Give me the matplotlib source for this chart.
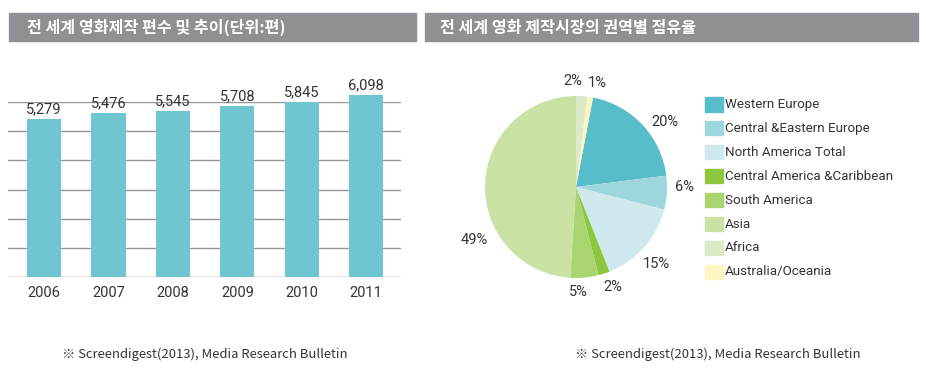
import matplotlib
matplotlib.use("Agg")
import matplotlib.pyplot as plt
from matplotlib.patches import Rectangle
from matplotlib import font_manager as fm
import numpy as np

# ---------------- data ----------------
years = ["2006", "2007", "2008", "2009", "2010", "2011"]
films = [5279, 5476, 5545, 5708, 5845, 6098]

regions = ["Western Europe", "Central &Eastern Europe", "North America Total",
           "Central America &Caribbean", "South America", "Asia", "Africa",
           "Australia/Oceania"]
shares = [20, 6, 15, 2, 5, 49, 2, 1]
share_labels = ["20%", "6%", "15%", "2%", "5%", "49%", "2%", "1%"]

title_left = "전 세계 영화제작 편수 및 추이(단위:편)"
title_right = "전 세계 영화 제작시장의 권역별 점유율"
source = "※ Screendigest(2013), Media Research Bulletin"

# ---------------- style ----------------
names = {f.name for f in fm.fontManager.ttflist}
narrow = "Liberation Sans Narrow" if "Liberation Sans Narrow" in names else "Roboto"
kr = "Noto Sans CJK KR"
plt.rcParams["font.family"] = [narrow, "DejaVu Sans"]

bar_color = "#70c6d0"
pie_colors = ["#57bdca", "#9ed6de", "#cfe9ee", "#8dc63f", "#a9d46f",
              "#cae2a4", "#dbeac8", "#fff5c0"]
title_gray = "#8f9094"
text_col = "#333333"

W, H = 926, 378
fig = plt.figure(figsize=(W / 100, H / 100), dpi=100)


def fr(x0, y0, x1, y1):
    """pixel box (top-left origin) -> figure fraction rect"""
    return [x0 / W, 1 - y1 / H, (x1 - x0) / W, (y1 - y0) / H]


# title bars
for (x0, x1, tx, t) in [(9, 416, 27, title_left), (425, 918, 440, title_right)]:
    fig.patches.append(Rectangle((x0 / W, 1 - 41 / H), (x1 - x0) / W, 28 / H,
                                 transform=fig.transFigure, color=title_gray, zorder=0))
    fig.text(tx / W, 1 - 27.5 / H, t, color="white", fontsize=11.6, fontweight="bold",
             family=[kr, "DejaVu Sans"], va="center", ha="left")

# ---------------- bar chart ----------------
ax = fig.add_axes(fr(8, 102.3, 401, 276.7))
x = np.arange(len(years))
bars = ax.bar(x, films, width=0.53, color=bar_color, zorder=2, clip_on=False)
ax.set_xlim(-0.56, 5.54)
ax.set_ylim(0, films[4])
ax.set_yticks(np.linspace(0, films[4], 7))
ax.yaxis.grid(True, color="#959595", linewidth=1.0, zorder=1)
ax.set_axisbelow(True)
ax.set_yticklabels([])
ax.tick_params(axis="y", length=0)
ax.set_xticks(x)
ax.set_xticklabels(years, fontsize=10.5, color=text_col)
ax.tick_params(axis="x", length=0, pad=7)
for s in ax.spines.values():
    s.set_visible(False)
for xi, v in zip(x, films):
    ax.annotate(f"{v:,}", (xi, v), xytext=(0, 2), textcoords="offset points",
                ha="center", va="bottom", fontsize=10.5, color=text_col,
                annotation_clip=False)

# ---------------- pie chart ----------------
cx, cy, r = 576, 187, 91
pax = fig.add_axes(fr(cx - r, cy - r, cx + r, cy + r))
start = 90 - 360 * (shares[6] + shares[7]) / 100.0
wedges, _ = pax.pie(shares, colors=pie_colors, startangle=start, counterclock=False,
                    radius=1.0, wedgeprops=dict(linewidth=0))
pax.set_xlim(-1, 1)
pax.set_ylim(-1, 1)
pax.set_aspect("equal")
pax.axis("off")

label_shift = [-6.7, 3.8, -2.4, 2.4, -4.0, 29.6, 5.4, -2.4]
label_dist = [1.21, 1.19, 1.23, 1.17, 1.15, 1.26, 1.17, 1.17]
for w, lab, sh, d in zip(wedges, share_labels, label_shift, label_dist):
    ang = np.deg2rad((w.theta1 + w.theta2) / 2 + sh)
    pax.text(d * np.cos(ang), d * np.sin(ang), lab, ha="center", va="center",
             fontsize=10.5, color=text_col, clip_on=False)

# legend
for i, (name, col) in enumerate(zip(regions, pie_colors)):
    yc = 104.5 + i * 23.9
    fig.patches.append(Rectangle((705 / W, 1 - (yc + 7) / H), 18 / W, 14 / H,
                                 transform=fig.transFigure, color=col, zorder=1))
    fig.text(725 / W, 1 - yc / H, name, fontsize=9.6, color=text_col,
             va="center", ha="left")

# sources
for sx in (62, 575):
    fig.text(sx / W, 1 - 354 / H, source, fontsize=9.4, color=text_col,
             family=[kr, "DejaVu Sans"], va="center", ha="left")

fig.savefig("out.png", dpi=100)
